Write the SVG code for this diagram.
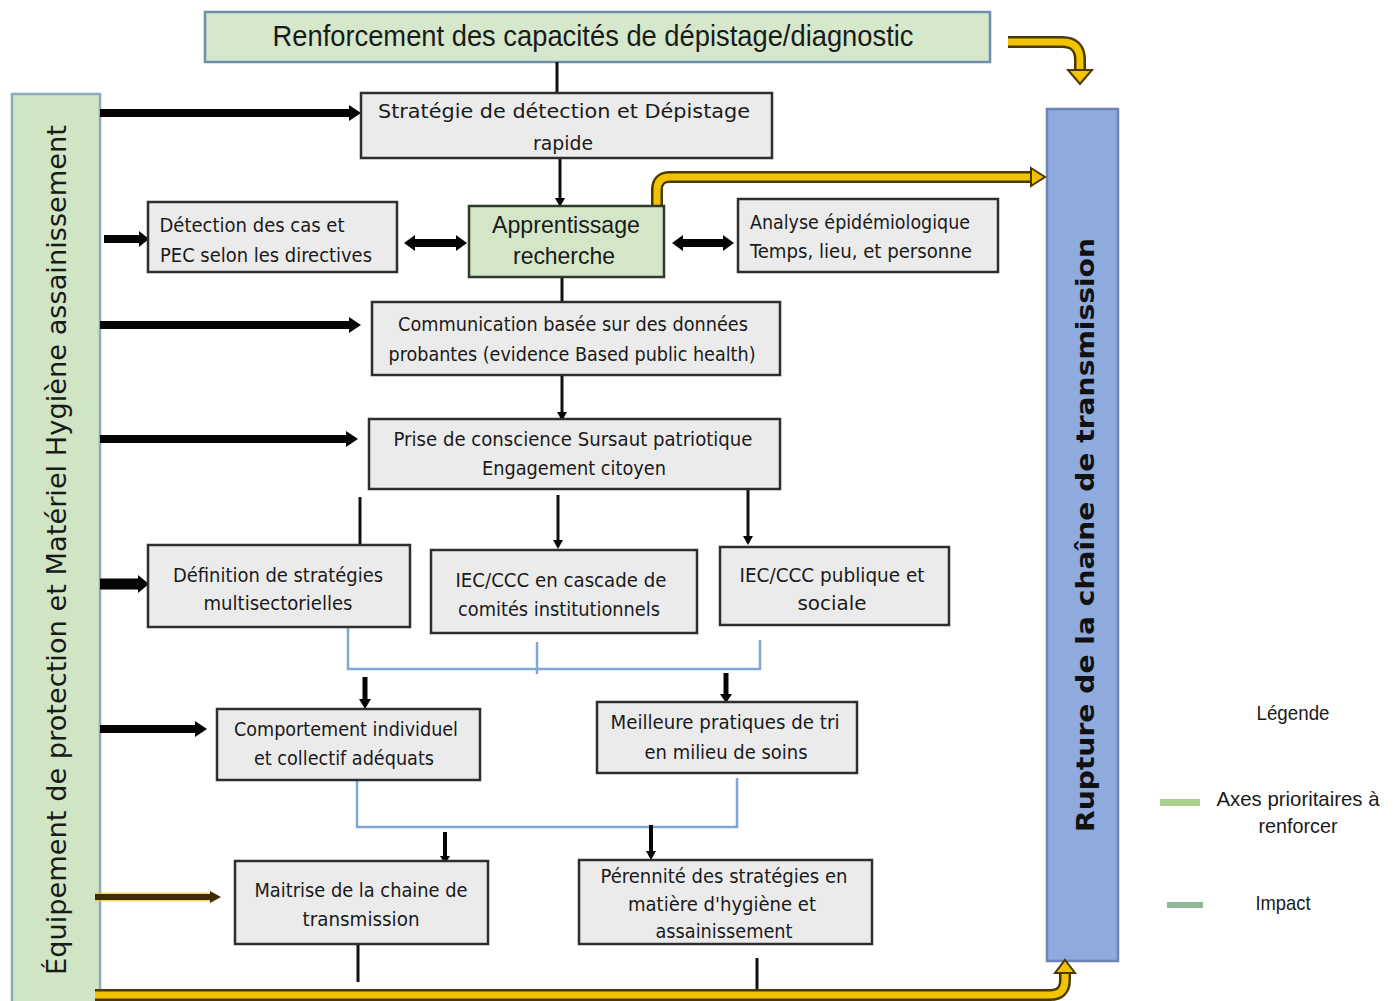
<svg xmlns="http://www.w3.org/2000/svg" width="1397" height="1001" viewBox="0 0 1397 1001">
<defs>
<style>
.node{fill:#ebebeb;stroke:#2e2e2e;stroke-width:2.5}
.gnode{fill:#d3e7c8;stroke:#2e3a2e;stroke-width:2.5}
.t{font-family:"DejaVu Sans Condensed","DejaVu Sans",sans-serif;font-size:20px;fill:#1a1a1a;text-anchor:middle}
.tl{font-family:"Liberation Sans",Arial,sans-serif;font-size:24px;fill:#1a1a1a;text-anchor:middle}
.thin{stroke:#111;stroke-width:3;fill:none}
.thick{stroke:#050505;stroke-width:8;fill:none}
.blue{stroke:#7fa8d8;stroke-width:2.5;fill:none}
.yo{stroke:#4a3a00;stroke-width:12;fill:none}
.yi{stroke:#f2c300;stroke-width:7;fill:none}
.head{fill:#050505}
.yhead{fill:#f2c300;stroke:#4a3a00;stroke-width:2}
</style>
</defs>
<rect width="1397" height="1001" fill="#ffffff"/>

<g id="top">
<rect x="205" y="12" width="785" height="50" fill="#d5e8cb" stroke="#6f8fa8" stroke-width="2.5"/>
<text x="593" y="46" font-family="Liberation Sans, Arial, sans-serif" font-size="29" fill="#1a1a1a" text-anchor="middle" textLength="641" lengthAdjust="spacingAndGlyphs">Renforcement des capacités de dépistage/diagnostic</text>
</g>

<g id="leftbar">
<rect x="12" y="94" width="88" height="912" fill="#cfe5c3" stroke="#8eaabb" stroke-width="2.5"/>
<text transform="translate(66,550) rotate(-90)" font-family="DejaVu Sans, sans-serif" font-size="27" fill="#1a1a1a" text-anchor="middle" textLength="850" lengthAdjust="spacingAndGlyphs">Équipement de protection et Matériel Hygiène assainissement</text>
</g>

<g id="rightbar">
<rect x="1047" y="109" width="71" height="852" fill="#8faadc" stroke="#6a85b5" stroke-width="2.5"/>
<text transform="translate(1094,535) rotate(-90)" font-family="DejaVu Sans, sans-serif" font-size="25" font-weight="bold" fill="#111" text-anchor="middle" textLength="594" lengthAdjust="spacingAndGlyphs">Rupture de la chaîne de transmission</text>
</g>

<g id="connectors">
<!-- thin vertical -->
<line class="thin" x1="557" y1="62" x2="557" y2="93"/>
<line class="thin" x1="560" y1="158" x2="560" y2="200"/>
<polygon class="head" points="555,198 565,198 560,207"/>
<line class="thin" x1="562" y1="277" x2="562" y2="322"/>
<line class="thin" x1="562" y1="375" x2="562" y2="414"/>
<polygon class="head" points="557,412 567,412 562,421"/>
<line class="thin" x1="360" y1="497" x2="360" y2="545"/>
<line class="thin" x1="558" y1="495" x2="558" y2="542"/>
<polygon class="head" points="553,540 563,540 558,549"/>
<line class="thin" x1="748" y1="489" x2="748" y2="538"/>
<polygon class="head" points="743,536 753,536 748,545"/>
<!-- blue brackets -->
<polyline class="blue" points="348,627 348,669 760,669 760,640"/>
<line class="blue" x1="537" y1="642" x2="537" y2="674"/>
<polyline class="blue" points="357,780 357,827 737,827 737,778"/>
<!-- arrows to second tier -->
<line x1="365" y1="677" x2="365" y2="701" stroke="#050505" stroke-width="5"/>
<polygon class="head" points="359,699 371,699 365,709"/>
<line x1="726" y1="673" x2="726" y2="695" stroke="#050505" stroke-width="5"/>
<polygon class="head" points="720,694 732,694 726,703"/>
<line x1="445" y1="832" x2="445" y2="858" stroke="#050505" stroke-width="4"/>
<polygon class="head" points="440,856 450,856 445,864"/>
<line x1="651" y1="825" x2="651" y2="853" stroke="#050505" stroke-width="4"/>
<polygon class="head" points="646,851 656,851 651,860"/>
<line class="thin" x1="358" y1="944" x2="358" y2="982"/>
<line class="thin" x1="757" y1="958" x2="757" y2="992"/>
<!-- thick left arrows -->
<line class="thick" x1="100" y1="113" x2="350" y2="113"/>
<polygon class="head" points="349,105 361,113 349,121"/>
<line class="thick" x1="104" y1="239" x2="140" y2="239"/>
<polygon class="head" points="139,231 149,239 139,247"/>
<line class="thick" x1="100" y1="325" x2="350" y2="325"/>
<polygon class="head" points="349,317 361,325 349,333"/>
<line class="thick" x1="100" y1="439" x2="347" y2="439"/>
<polygon class="head" points="346,431 358,439 346,447"/>
<line x1="100" y1="584" x2="140" y2="584" stroke="#050505" stroke-width="11"/>
<polygon class="head" points="138,575 149,584 138,593"/>
<line class="thick" x1="100" y1="729" x2="196" y2="729"/>
<polygon class="head" points="195,721 207,729 195,737"/>
<!-- double arrows -->
<line class="thick" x1="414" y1="243" x2="457" y2="243"/>
<polygon class="head" points="415,235 404,243 415,251"/>
<polygon class="head" points="456,235 467,243 456,251"/>
<line class="thick" x1="682" y1="243" x2="724" y2="243"/>
<polygon class="head" points="683,235 672,243 683,251"/>
<polygon class="head" points="723,235 734,243 723,251"/>
<!-- brown/yellow arrow to Maitrise -->
<line x1="95" y1="897" x2="212" y2="897" stroke="#f2c300" stroke-width="9" opacity="0.6"/>
<line x1="95" y1="897" x2="212" y2="897" stroke="#3e2c00" stroke-width="6"/>
<polygon points="210,891 221,897 210,903" fill="#3e2c00"/>
<!-- yellow top arrow -->
<path class="yo" d="M1008,42 H1062 Q1080,42 1080,60 V72"/>
<path class="yi" d="M1008,42 H1062 Q1080,42 1080,60 V72"/>
<polygon class="yhead" points="1068,70 1092,70 1080,84"/>
<!-- yellow arrow from Apprentissage -->
<path class="yo" d="M657,205 V190 Q657,177 670,177 H1033"/>
<path class="yi" d="M657,205 V190 Q657,177 670,177 H1033"/>
<polygon class="yhead" points="1031,168 1045,177 1031,186"/>
<!-- yellow bottom arrow -->
<path class="yo" d="M95,995 H1050 Q1065,995 1065,980 V972"/>
<path class="yi" d="M95,995 H1050 Q1065,995 1065,980 V972"/>
<polygon class="yhead" points="1055,973 1075,973 1065,960"/>
</g>

<g id="n-strategie">
<rect class="node" x="361" y="93" width="411" height="65"/>
<text class="t" x="564" y="118" font-size="23" textLength="372" lengthAdjust="spacingAndGlyphs">Stratégie de détection et Dépistage</text>
<text class="t" x="563" y="150" font-size="23" textLength="60" lengthAdjust="spacingAndGlyphs">rapide</text>
</g>

<g id="n-apprentissage">
<rect class="gnode" x="469" y="206" width="195" height="71"/>
<text class="tl" x="566" y="233" textLength="148" lengthAdjust="spacingAndGlyphs">Apprentissage</text>
<text class="tl" x="564" y="264" textLength="102" lengthAdjust="spacingAndGlyphs">recherche</text>
</g>

<g id="n-detection">
<rect class="node" x="148" y="202" width="249" height="70"/>
<text class="t" x="252" y="232" textLength="185" lengthAdjust="spacingAndGlyphs">Détection des cas et</text>
<text class="t" x="266" y="262" textLength="212" lengthAdjust="spacingAndGlyphs">PEC selon les directives</text>
</g>

<g id="n-analyse">
<rect class="node" x="738" y="199" width="260" height="73"/>
<text class="t" x="860" y="229" textLength="220" lengthAdjust="spacingAndGlyphs">Analyse épidémiologique</text>
<text class="t" x="861" y="258" textLength="222" lengthAdjust="spacingAndGlyphs">Temps, lieu, et personne</text>
</g>

<g id="n-communication">
<rect class="node" x="372" y="302" width="408" height="73"/>
<text class="t" x="573" y="331" textLength="350" lengthAdjust="spacingAndGlyphs">Communication basée sur des données</text>
<text class="t" x="572" y="361" textLength="367" lengthAdjust="spacingAndGlyphs">probantes  (evidence Based public health)</text>
</g>

<g id="n-prise">
<rect class="node" x="369" y="419" width="411" height="70"/>
<text class="t" x="573" y="446" textLength="359" lengthAdjust="spacingAndGlyphs">Prise de conscience  Sursaut patriotique</text>
<text class="t" x="574" y="475" textLength="184" lengthAdjust="spacingAndGlyphs">Engagement  citoyen</text>
</g>

<g id="n-definition">
<rect class="node" x="148" y="545" width="262" height="82"/>
<text class="t" x="278" y="582" textLength="210" lengthAdjust="spacingAndGlyphs">Définition de stratégies</text>
<text class="t" x="278" y="610" textLength="149" lengthAdjust="spacingAndGlyphs">multisectorielles</text>
</g>

<g id="n-iec-cascade">
<rect class="node" x="431" y="550" width="266" height="83"/>
<text class="t" x="561" y="587" textLength="211" lengthAdjust="spacingAndGlyphs">IEC/CCC en cascade de</text>
<text class="t" x="559" y="616" textLength="202" lengthAdjust="spacingAndGlyphs">comités institutionnels</text>
</g>

<g id="n-iec-publique">
<rect class="node" x="720" y="547" width="229" height="78"/>
<text class="t" x="832" y="582" textLength="185" lengthAdjust="spacingAndGlyphs">IEC/CCC publique  et</text>
<text class="t" x="832" y="610" textLength="69" lengthAdjust="spacingAndGlyphs">sociale</text>
</g>

<g id="n-comportement">
<rect class="node" x="217" y="709" width="263" height="71"/>
<text class="t" x="346" y="736" textLength="224" lengthAdjust="spacingAndGlyphs">Comportement individuel</text>
<text class="t" x="344" y="765" textLength="180" lengthAdjust="spacingAndGlyphs">et collectif adéquats</text>
</g>

<g id="n-meilleure">
<rect class="node" x="597" y="702" width="260" height="71"/>
<text class="t" x="725" y="729" textLength="229" lengthAdjust="spacingAndGlyphs">Meilleure pratiques de tri</text>
<text class="t" x="726" y="759" textLength="163" lengthAdjust="spacingAndGlyphs">en milieu de soins</text>
</g>

<g id="n-maitrise">
<rect class="node" x="235" y="861" width="253" height="83"/>
<text class="t" x="361" y="897" textLength="213" lengthAdjust="spacingAndGlyphs">Maitrise de la chaine de</text>
<text class="t" x="361" y="926" textLength="117" lengthAdjust="spacingAndGlyphs">transmission</text>
</g>

<g id="n-perennite">
<rect class="node" x="579" y="860" width="293" height="84"/>
<text class="t" x="724" y="883" textLength="247" lengthAdjust="spacingAndGlyphs">Pérennité des stratégies en</text>
<text class="t" x="722" y="911" textLength="188" lengthAdjust="spacingAndGlyphs">matière d'hygiène  et</text>
<text class="t" x="724" y="938" textLength="137" lengthAdjust="spacingAndGlyphs">assainissement</text>
</g>

<g id="legend">
<text x="1293" y="720" font-family="Liberation Sans, Arial, sans-serif" font-size="21" fill="#1a1a1a" text-anchor="middle" textLength="73" lengthAdjust="spacingAndGlyphs">Légende</text>
<rect x="1160" y="799" width="40" height="7" fill="#a9d18e"/>
<text x="1298" y="806" font-family="Liberation Sans, Arial, sans-serif" font-size="21" fill="#1a1a1a" text-anchor="middle" textLength="163" lengthAdjust="spacingAndGlyphs">Axes  prioritaires à</text>
<text x="1298" y="833" font-family="Liberation Sans, Arial, sans-serif" font-size="21" fill="#1a1a1a" text-anchor="middle" textLength="79" lengthAdjust="spacingAndGlyphs">renforcer</text>
<rect x="1167" y="902" width="36" height="6" fill="#8fb996"/>
<text x="1283" y="910" font-family="Liberation Sans, Arial, sans-serif" font-size="21" fill="#1a1a1a" text-anchor="middle" textLength="55" lengthAdjust="spacingAndGlyphs">Impact</text>
</g>
</svg>
